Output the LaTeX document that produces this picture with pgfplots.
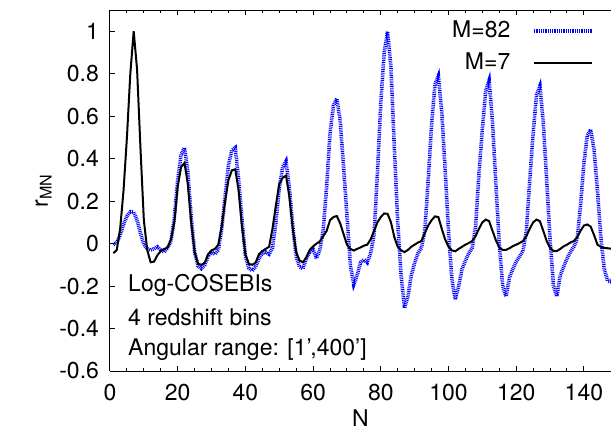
\documentclass[border=0pt]{standalone}
\usepackage{fontspec}
\setmainfont{TeX Gyre Heros}
\usepackage{pgfplots}
\pgfplotsset{compat=1.18}
\usepackage{pgfplotstable}

\pgfplotstableread{
N r
1 -0.005
2 0.005
3 0.04
4 0.09
5 0.13
6 0.15
7 0.148
8 0.11
9 0.05
10 -0.005
11 -0.025
12 -0.03
13 -0.025
14 -0.015
15 -0.03
16 -0.04
17 -0.02
18 0.01
19 0.12
20 0.30
21 0.42
22 0.452
23 0.34
24 0.12
25 -0.04
26 -0.105
27 -0.118
28 -0.10
29 -0.06
30 -0.04
31 -0.05
32 -0.03
33 0.07
34 0.22
35 0.37
36 0.44
37 0.452
38 0.30
39 0.11
40 -0.06
41 -0.115
42 -0.128
43 -0.11
44 -0.07
45 -0.045
46 -0.04
47 -0.05
48 -0.02
49 0.10
50 0.26
51 0.36
52 0.388
53 0.26
54 0.08
55 -0.06
56 -0.11
57 -0.118
58 -0.07
59 -0.04
60 -0.028
61 -0.07
62 -0.03
63 0.066
64 0.27
65 0.52
66 0.65
67 0.683
68 0.58
69 0.36
70 0.13
71 -0.10
72 -0.193
73 -0.15
74 -0.09
75 -0.075
76 -0.09
77 -0.045
78 0.04
79 0.33
80 0.664
81 0.90
82 0.999
83 0.83
84 0.45
85 0.10
86 -0.15
87 -0.304
88 -0.25
89 -0.15
90 -0.09
91 -0.045
92 -0.02
93 0.06
94 0.30
95 0.56
96 0.75
97 0.79
98 0.62
99 0.35
100 0.06
101 -0.17
102 -0.264
103 -0.20
104 -0.12
105 -0.08
106 -0.045
107 -0.02
108 0.08
109 0.33
110 0.54
111 0.72
112 0.769
113 0.57
114 0.28
115 0.00
116 -0.20
117 -0.249
118 -0.16
119 -0.12
120 -0.085
121 -0.06
122 -0.035
123 0.06
124 0.30
125 0.52
126 0.70
127 0.742
128 0.57
129 0.30
130 0.02
131 -0.20
132 -0.249
133 -0.15
134 -0.11
135 -0.07
136 -0.04
137 -0.015
138 0.02
139 0.18
140 0.38
141 0.51
142 0.538
143 0.44
144 0.25
145 0.03
146 -0.12
147 -0.175
148 -0.18
149 -0.15
150 -0.10
}\tabMlarge

\pgfplotstableread{
N r
1 -0.045
2 -0.03
3 0.07
4 0.25
5 0.50
6 0.80
7 1.0
8 0.82
9 0.45
10 0.11
11 -0.03
12 -0.088
13 -0.085
14 -0.055
15 -0.035
16 -0.025
17 -0.02
18 0.02
19 0.10
20 0.27
21 0.36
22 0.38
23 0.28
24 0.10
25 -0.04
26 -0.095
27 -0.10
28 -0.09
29 -0.05
30 -0.032
31 -0.025
32 -0.005
33 0.08
34 0.20
35 0.30
36 0.345
37 0.35
38 0.25
39 0.08
40 -0.05
41 -0.095
42 -0.10
43 -0.09
44 -0.05
45 -0.035
46 -0.025
47 -0.015
48 0.07
49 0.18
50 0.28
51 0.31
52 0.32
53 0.22
54 0.07
55 -0.04
56 -0.08
57 -0.088
58 -0.065
59 -0.03
60 -0.013
61 0.0
62 0.01
63 0.035
64 0.06
65 0.11
66 0.125
67 0.13
68 0.095
69 0.045
70 -0.005
71 -0.025
72 -0.033
73 -0.025
74 -0.018
75 -0.01
76 -0.005
77 0.02
78 0.06
79 0.10
80 0.125
81 0.142
82 0.14
83 0.10
84 0.03
85 -0.015
86 -0.032
87 -0.04
88 -0.03
89 -0.015
90 -0.005
91 0.005
92 0.012
93 0.05
94 0.085
95 0.11
96 0.128
97 0.125
98 0.07
99 0.02
100 -0.015
101 -0.032
102 -0.036
103 -0.025
104 -0.015
105 -0.005
106 0.003
107 0.012
108 0.035
109 0.07
110 0.10
111 0.113
112 0.105
113 0.06
114 0.015
115 -0.018
116 -0.03
117 -0.03
118 -0.022
119 -0.012
120 -0.005
121 0.003
122 0.012
123 0.035
124 0.07
125 0.10
126 0.113
127 0.105
128 0.06
129 0.012
130 -0.02
131 -0.035
132 -0.035
133 -0.025
134 -0.013
135 -0.005
136 0.005
137 0.012
138 0.03
139 0.06
140 0.085
141 0.09
142 0.08
143 0.04
144 -0.005
145 -0.015
146 -0.02
147 -0.022
148 -0.024
149 -0.024
150 -0.024
}\tabMsmall

\begin{document}
\fontsize{11.5}{13.8}\selectfont
\begin{tikzpicture}
\begin{axis}[
  scale only axis,
  width=250.5pt, height=180.5pt,
  xmin=0, xmax=148, ymin=-0.6, ymax=1.1,
  axis y line*=left,
  axis line style={line width=0.5pt},
  every tick/.style={black, line width=0.5pt},
  major tick length=2.5pt, minor tick length=1.3pt,
  xtick={0,20,40,60,80,100,120,140},
  xticklabels={0,20,40,60,80,100,120,140},
  minor x tick num=3,
  ytick={-0.6,-0.4,-0.2,0,0.2,0.4,0.6,0.8,1},
  yticklabels={-0.6,-0.4,-0.2,0,0.2,0.4,0.6,0.8,1},
  tick label style={font=\fontsize{11.5}{13.8}\selectfont},
  yticklabel style={xshift=-1.5pt},
  xticklabel style={yshift=-2.5pt},
  xlabel={N},
  ylabel={r\textsubscript{MN}},
  label style={font=\fontsize{11.5}{13.8}\selectfont},
  xlabel style={yshift=0.5pt, inner sep=1pt},
  ylabel style={yshift=-4pt},
  legend plot pos=right,
  legend cell align=right,
  legend style={draw=none, fill=none, at={(axis description cs:0.966,0.986)}, anchor=north east,
    inner sep=0pt, row sep=0pt, column sep=8pt, nodes={inner sep=2.8pt},
    font=\fontsize{11.5}{13.8}\selectfont},
  legend image code/.code={\draw[#1] (0pt,0pt) -- (29pt,0pt);},
  clip=true,
]
\addplot[blue, line width=1.8pt, dash pattern=on 0.45pt off 0.45pt] table[x=N,y=r] {\tabMlarge};
\addlegendentry{M=82}
\addplot[black, line width=1pt] table[x=N,y=r] {\tabMsmall};
\addlegendentry{M=7}
\node[anchor=west] at (axis cs:3,-0.198) {Log-COSEBIs};
\node[anchor=west] at (axis cs:3,-0.349) {4 redshift bins};
\node[anchor=west] at (axis cs:3,-0.5) {Angular range: [1',400']};
\coordinate (sw) at (rel axis cs:0,0);
\coordinate (ne) at (rel axis cs:1,1);
\end{axis}
\pgfresetboundingbox
\path[use as bounding box] ([xshift=-55pt,yshift=-32pt]sw) rectangle ([yshift=5pt]ne);
\end{tikzpicture}
\end{document}
